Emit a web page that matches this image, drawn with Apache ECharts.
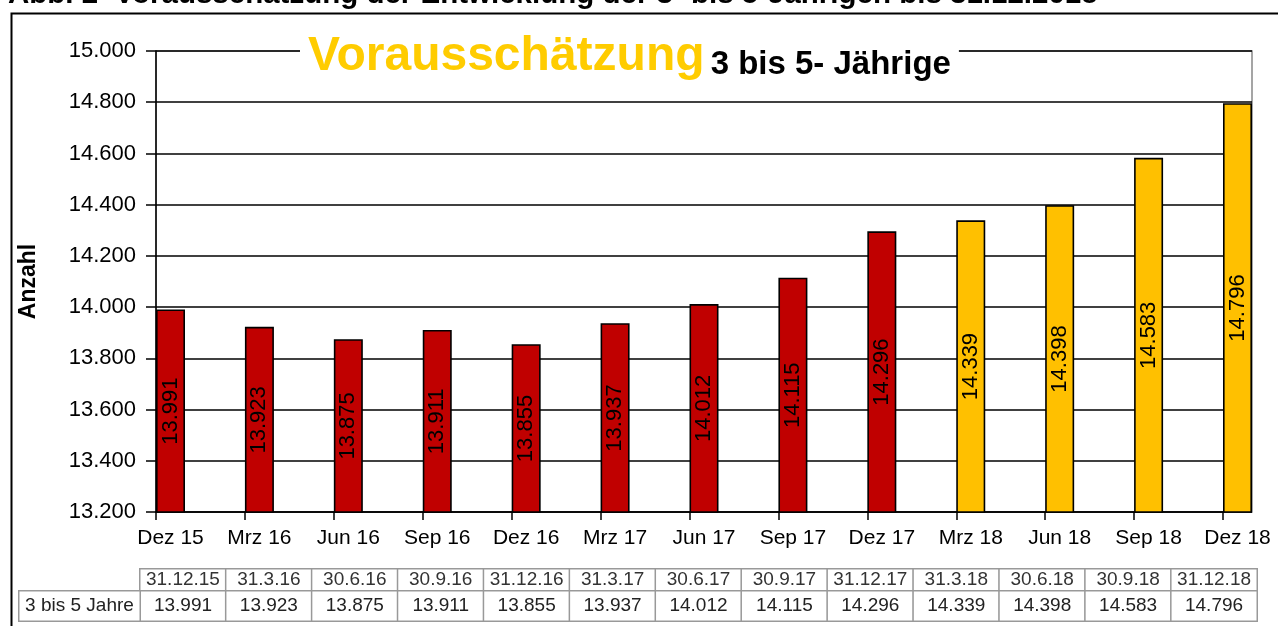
<!DOCTYPE html>
<html>
<head>
<meta charset="utf-8">
<script src="https://cdn.jsdelivr.net/npm/echarts@6/dist/echarts.min.js"></script>
<style>
html,body{margin:0;padding:0;background:#fff;}
#chart{width:1278px;height:626px;}
</style>
</head>
<body>
<div id="chart"></div>
<script>
// ---- data ----
const categories = ['Dez 15','Mrz 16','Jun 16','Sep 16','Dez 16','Mrz 17','Jun 17','Sep 17','Dez 17','Mrz 18','Jun 18','Sep 18','Dez 18'];
const dates = ['31.12.15','31.3.16','30.6.16','30.9.16','31.12.16','31.3.17','30.6.17','30.9.17','31.12.17','31.3.18','30.6.18','30.9.18','31.12.18'];
const values = [13991,13923,13875,13911,13855,13937,14012,14115,14296,14339,14398,14583,14796];
const phase = ['Ist','Ist','Ist','Ist','Ist','Ist','Ist','Ist','Ist','Prognose','Prognose','Prognose','Prognose'];
const rowLabel = ['3 bis 5 Jahre'];
const chartTitle = 'Vorausschätzung';
const chartSubtitle = '3 bis 5- Jährige';
const heading = 'Abb. 2  Vorausschätzung der Entwicklung der 3- bis 5-Jährigen bis 31.12.2018';
const yMin = 13200, yMax = 15000, yStep = 200;

const phaseColor = { 'Ist': '#C00000', 'Prognose': '#FFC000' };
const FONT = "'Liberation Sans', Arial, sans-serif";
const fmt = n => String(n).replace(/\B(?=(\d{3})+(?!\d))/g, '.');

const chart = echarts.init(document.getElementById('chart'), null, { renderer: 'canvas' });

const option = {
  animation: false,
  backgroundColor: '#fff',
  title: {
    text: '{a|' + chartTitle + '}{s| }{b|' + chartSubtitle + '}',
    left: 300, top: 31,
    backgroundColor: '#fff',
    padding: [0, 8, 0, 8],
    textStyle: {
      rich: {
        a: { fontFamily: FONT, fontSize: 48, fontWeight: 'bold', color: '#FFCC00', verticalAlign: 'bottom', lineHeight: 50 },
        s: { fontFamily: FONT, fontSize: 22, verticalAlign: 'bottom', lineHeight: 40 },
        b: { fontFamily: FONT, fontSize: 33, fontWeight: 'bold', color: '#000', verticalAlign: 'bottom', lineHeight: 40 }
      }
    },
    z: 10
  },
  graphic: [
    { type: 'rect', left: 9, top: 11, z: 100, silent: true,
      shape: { width: 1320, height: 700 }, style: { fill: 'none', stroke: '#000', lineWidth: 2 } },
    { type: 'text', left: 8, top: -20, z: 100, silent: true,
      style: { text: heading, font: 'bold 29.5px ' + FONT, fill: '#000' } }
  ],
  grid: [
    { left: 156, top: 51, right: 26, bottom: 114, show: true, borderColor: '#888', borderWidth: 1.5, backgroundColor: 'transparent' },
    { left: 156, top: 51, right: 55, bottom: 114 },
    { left: 140, top: 569, width: 1117, height: 22 },
    { left: 140, top: 591, width: 1117, height: 30 },
    { left: 19, top: 591, width: 121, height: 30 }
  ],
  xAxis: [
    { gridIndex: 0, type: 'category', data: categories, show: false },
    { gridIndex: 1, type: 'category', data: categories, boundaryGap: false,
      axisLine: { lineStyle: { color: '#000', width: 1.5 } },
      axisTick: { show: true, length: 8, inside: false, lineStyle: { color: '#000', width: 1.5 } },
      axisLabel: { interval: 0, margin: 16, color: '#000', fontFamily: FONT, fontSize: 21, padding: [0, 0, 0, 29] },
      splitLine: { show: false } },
    { gridIndex: 2, type: 'category', data: dates, show: false },
    { gridIndex: 3, type: 'category', data: dates, show: false },
    { gridIndex: 4, type: 'category', data: rowLabel, show: false }
  ],
  yAxis: [
    { gridIndex: 0, type: 'value', min: yMin, max: yMax, interval: yStep,
      name: 'Anzahl', nameLocation: 'middle', nameRotate: 90, nameGap: 116,
      nameTextStyle: { fontFamily: FONT, fontSize: 23, fontWeight: 'bold', color: '#000' },
      axisLine: { show: true, lineStyle: { color: '#000', width: 1.5 } },
      axisTick: { show: true, length: 10, lineStyle: { color: '#000', width: 1.5 } },
      axisLabel: { margin: 20, color: '#000', fontFamily: FONT, fontSize: 22, formatter: v => fmt(v) },
      splitLine: { show: true, lineStyle: { color: '#000', width: 1.6 } } },
    { gridIndex: 1, type: 'value', min: yMin, max: yMax, interval: yStep, show: false, splitLine: { show: false } },
    { gridIndex: 2, type: 'category', data: [''], show: false },
    { gridIndex: 3, type: 'category', data: rowLabel, show: false },
    { gridIndex: 4, type: 'category', data: rowLabel, show: false }
  ],
  series: [
    { type: 'bar', xAxisIndex: 1, yAxisIndex: 1, data: categories.map(() => '-'),
      barWidth: 29, barGap: 0, silent: true, clip: true },
    { type: 'bar', xAxisIndex: 1, yAxisIndex: 1, clip: true,
      barWidth: 29, barGap: 0,
      data: values.map((v, i) => ({ value: v, itemStyle: { color: phaseColor[phase[i]] } })),
      itemStyle: { borderColor: '#000', borderWidth: 1.6 },
      label: { show: true, position: 'inside', rotate: 90, color: '#000', fontFamily: FONT, fontSize: 22,
        formatter: p => fmt(p.value) },
      emphasis: { disabled: true } },
    { type: 'heatmap', xAxisIndex: 2, yAxisIndex: 2,
      data: dates.map((d, i) => [i, 0, i]),
      itemStyle: { color: '#fff', borderColor: '#999', borderWidth: 1.5 },
      label: { show: true, color: '#333', fontFamily: FONT, fontSize: 19, formatter: p => dates[p.data[0]] },
      emphasis: { disabled: true }, silent: true },
    { type: 'heatmap', xAxisIndex: 3, yAxisIndex: 3,
      data: values.map((v, i) => [i, 0, v]),
      itemStyle: { color: '#fff', borderColor: '#999', borderWidth: 1.5 },
      label: { show: true, color: '#222', fontFamily: FONT, fontSize: 19, formatter: p => fmt(p.data[2]) },
      emphasis: { disabled: true }, silent: true },
    { type: 'heatmap', xAxisIndex: 4, yAxisIndex: 4,
      data: rowLabel.map((r, i) => [0, i, i]),
      itemStyle: { color: '#fff', borderColor: '#999', borderWidth: 1.5 },
      label: { show: true, color: '#222', fontFamily: FONT, fontSize: 19, formatter: p => rowLabel[p.data[1]] },
      emphasis: { disabled: true }, silent: true }
  ]
};
chart.setOption(option);
</script>
</body>
</html>
